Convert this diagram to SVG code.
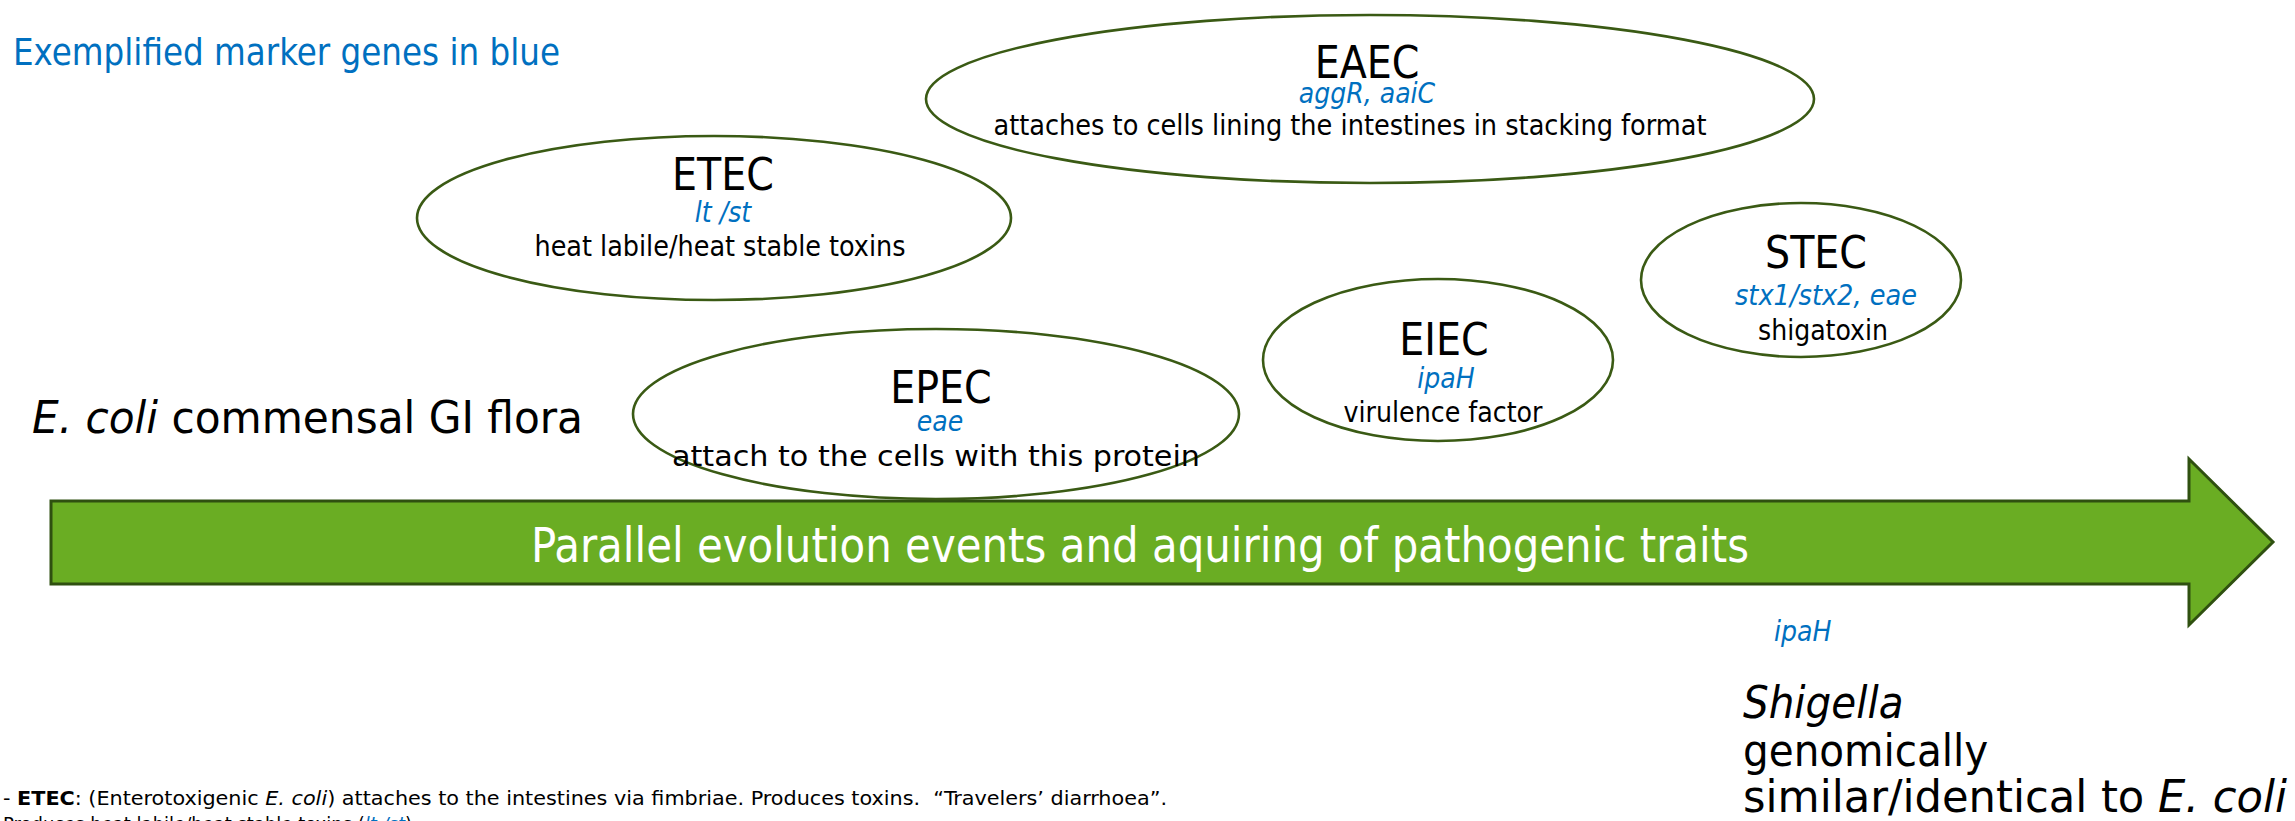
<svg xmlns="http://www.w3.org/2000/svg" width="2295" height="821" viewBox="0 0 2295 821">
<style>
text{font-family:"DejaVu Sans Condensed","DejaVu Sans",sans-serif;font-stretch:condensed;fill:#000}
.node{fill:#fff;stroke:#3a5a14;stroke-width:2.6}
.title{font-size:44px;text-anchor:middle}
.gene{font-size:28px;font-style:italic;fill:#0070c0;text-anchor:middle}
.desc{font-size:28px;text-anchor:middle}
.blue{fill:#0070c0}
.it{font-style:italic}
</style>
<rect width="2295" height="821" fill="#fff"/>
<g id="evolution-arrow">
<polygon points="51,501 2189,501 2189,459 2273,542 2189,625 2189,584 51,584" fill="#6aad23" stroke="#2f5010" stroke-width="3"/>
<text x="1140" y="562" font-size="48" style="fill:#fff" text-anchor="middle" textLength="1218" lengthAdjust="spacingAndGlyphs">Parallel evolution events and aquiring of pathogenic traits</text>
</g>
<text x="13" y="65" font-size="38" class="blue" textLength="547" lengthAdjust="spacingAndGlyphs">Exemplified marker genes in blue</text>
<text x="32" y="433" font-size="44" textLength="551" lengthAdjust="spacingAndGlyphs"><tspan class="it">E. coli</tspan> commensal GI flora</text>
<g id="node-EAEC">
<ellipse class="node" cx="1370" cy="99" rx="444" ry="84"/>
<text class="title" x="1367" y="78">EAEC</text>
<text class="gene" x="1367" y="103">aggR, aaiC</text>
<text class="desc" x="1350" y="135" textLength="713" lengthAdjust="spacingAndGlyphs">attaches to cells lining the intestines in stacking format</text>
</g>
<g id="node-ETEC">
<ellipse class="node" cx="714" cy="218" rx="297" ry="82"/>
<text class="title" x="723" y="190">ETEC</text>
<text class="gene" x="723" y="222">lt /st</text>
<text class="desc" x="720" y="256" textLength="371" lengthAdjust="spacingAndGlyphs">heat labile/heat stable toxins</text>
</g>
<g id="node-EPEC">
<ellipse class="node" cx="936" cy="414" rx="303" ry="85"/>
<text class="title" x="941" y="403">EPEC</text>
<text class="gene" x="940" y="431">eae</text>
<text class="desc" x="936" y="466" font-size="31" textLength="528" lengthAdjust="spacingAndGlyphs">attach to the cells with this protein</text>
</g>
<g id="node-EIEC">
<ellipse class="node" cx="1438" cy="360" rx="175" ry="81"/>
<text class="title" x="1444" y="355">EIEC</text>
<text class="gene" x="1446" y="388">ipaH</text>
<text class="desc" x="1443" y="422" textLength="199" lengthAdjust="spacingAndGlyphs">virulence factor</text>
</g>
<g id="node-STEC">
<ellipse class="node" cx="1801" cy="280" rx="160" ry="77"/>
<text class="title" x="1816" y="268">STEC</text>
<text class="gene" x="1826" y="305" textLength="182" lengthAdjust="spacingAndGlyphs">stx1/stx2, eae</text>
<text class="desc" x="1823" y="340" textLength="130" lengthAdjust="spacingAndGlyphs">shigatoxin</text>
</g>
<g id="node-Shigella">
<text x="1774" y="641" font-size="28" class="blue it">ipaH</text>
<text x="1743" y="718" font-size="45" class="it">Shigella</text>
<text x="1743" y="766" font-size="45">genomically</text>
<text x="1743" y="812" font-size="45" textLength="544" lengthAdjust="spacingAndGlyphs">similar/identical to <tspan class="it">E. coli</tspan></text>
</g>
<g id="notes">
<text x="3" y="805" font-size="20" textLength="1164" lengthAdjust="spacingAndGlyphs">- <tspan font-weight="bold">ETEC</tspan>: (Enterotoxigenic <tspan class="it">E. coli</tspan>) attaches to the intestines via fimbriae. Produces toxins. &#160;“Travelers’ diarrhoea”.</text>
<text x="3" y="831" font-size="20">Produces heat labile/heat stable toxins (<tspan class="blue it">lt /st</tspan>)</text>
</g>
<g id="connectors"/>
</svg>
